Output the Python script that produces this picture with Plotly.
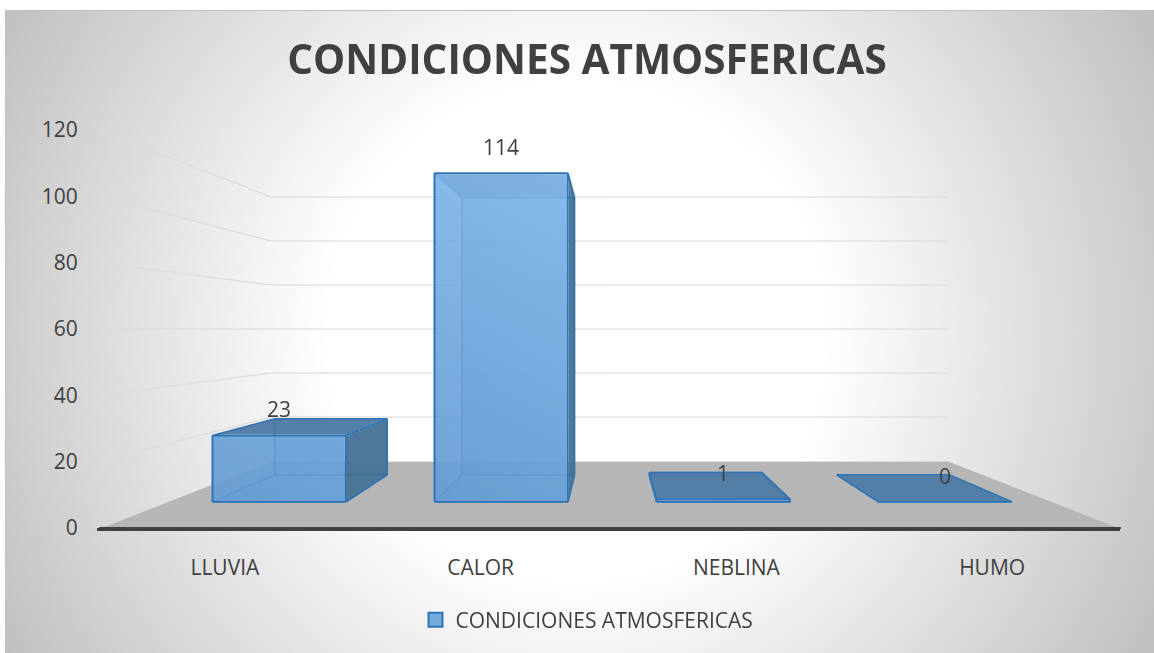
import base64
import plotly.graph_objects as go

categories = ['LLUVIA', 'CALOR', 'NEBLINA', 'HUMO']
values = [23, 114, 1, 0]
y_ticks = [0, 20, 40, 60, 80, 100, 120]
series_name = 'CONDICIONES ATMOSFERICAS'

# bar footprint inside each category slot and inside the floor depth
bar_left, bar_right = 0.21, 0.81
bar_front, bar_back = 0.296, 0.715
floor_z = -0.3  # just under the zero bar so the two do not fight

FONT = 'Open Sans'
TEXT = '#404040'
EDGE = '#2e75b6'

# grey to white backdrop of the chart area
svg = """<svg xmlns="http://www.w3.org/2000/svg" width="1154" height="653">
<defs><radialGradient id="g" gradientUnits="userSpaceOnUse" cx="577" cy="331" r="670">
<stop offset="0.37" stop-color="#ffffff"/><stop offset="1" stop-color="#bebebe"/>
</radialGradient></defs>
<rect x="0" y="0" width="1154" height="653" fill="#ffffff"/>
<rect x="5.5" y="10.5" width="1160" height="660" fill="url(#g)" stroke="#c0c0c0"/>
</svg>"""
background = 'data:image/svg+xml;base64,' + base64.b64encode(svg.encode()).decode()


def box_faces(i, value):
    x0, x1 = i + bar_left, i + bar_right
    y0, y1 = bar_front, bar_back
    return {
        'front': [(x0, y0, 0), (x1, y0, 0), (x1, y0, value), (x0, y0, value)],
        'back': [(x0, y1, 0), (x1, y1, 0), (x1, y1, value), (x0, y1, value)],
        'left': [(x0, y0, 0), (x0, y1, 0), (x0, y1, value), (x0, y0, value)],
        'right': [(x1, y0, 0), (x1, y1, 0), (x1, y1, value), (x1, y0, value)],
        'top': [(x0, y0, value), (x1, y0, value), (x1, y1, value), (x0, y1, value)],
        'bottom': [(x0, y0, 0), (x1, y0, 0), (x1, y1, 0), (x0, y1, 0)],
    }


def quad_mesh(quads, color, opacity, shade=None):
    xs, ys, zs, a, b, c = [], [], [], [], [], []
    for q in quads:
        n = len(xs)
        for p in q:
            xs.append(p[0])
            ys.append(p[1])
            zs.append(p[2])
        a += [n, n]
        b += [n + 1, n + 2]
        c += [n + 2, n + 3]
    mesh = go.Mesh3d(x=xs, y=ys, z=zs, i=a, j=b, k=c, opacity=opacity, flatshading=True,
                     lighting=dict(ambient=1, diffuse=0, specular=0, fresnel=0), hoverinfo='skip',
                     scene='scene')
    if shade:
        # light comes from the upper right of each face
        mesh.intensity = [0.75 * z / 120 + 0.25 * (x % 1) for x, z in zip(xs, zs)]
        mesh.colorscale = [[0, shade[0]], [1, shade[1]]]
        mesh.cmin = 0
        mesh.cmax = 1
        mesh.showscale = False
    else:
        mesh.color = color
    return mesh


fig = go.Figure()

# only here so the 2D axes and the legend exist
fig.add_trace(go.Scatter(x=categories, y=[None] * len(categories), mode='markers', name=series_name,
                         marker=dict(symbol='square', size=14, color='#74a9dc', line=dict(color=EDGE, width=2)),
                         showlegend=True, hoverinfo='skip'))

# floor
n_cat = len(categories)
fig.add_trace(quad_mesh([[(0, 0, floor_z), (n_cat, 0, floor_z), (n_cat, 1, floor_z), (0, 1, floor_z)]], '#b6b6b6', 1))

# dark front edge of the floor, the canvas would cover the 2D axis line here
fig.add_trace(go.Scatter3d(x=[0, n_cat], y=[0, 0], z=[0, 0], mode='lines', line=dict(color=TEXT, width=4),
                           hoverinfo='skip', showlegend=False))

# gridlines on the back wall and fading along the left wall
gx, gy, gz, gc = [], [], [], []
for t in y_ticks[1:]:
    gx += [0, 0, n_cat, None]
    gy += [0, 1, 1, None]
    gz += [t, t, t, None]
    gc += ['#dedede', '#d6d6d6', '#d9d9d9', '#d9d9d9']
fig.add_trace(go.Scatter3d(x=gx, y=gy, z=gz, mode='lines', line=dict(color=gc, width=2),
                           hoverinfo='skip', showlegend=False))

faces = [box_faces(i, v) for i, v in enumerate(values)]
fig.add_trace(quad_mesh([f['bottom'] for f in faces], '#5b93c9', 0.7))
fig.add_trace(quad_mesh([f['back'] for f in faces], '#5b93c9', 0.8))
fig.add_trace(quad_mesh([f['left'] for f in faces], '#5b93c9', 0.6))
fig.add_trace(quad_mesh([f['right'] for f in faces], '#46708f', 0.85))
fig.add_trace(quad_mesh([f['top'] for f in faces], '#4f7aa3', 0.9))
fig.add_trace(quad_mesh([f['front'] for f in faces], None, 0.8, shade=('#639ad2', '#8cc2f5')))

# bar outlines
ex, ey, ez = [], [], []
for f in faces:
    for name in ['front', 'back', 'top']:
        q = f[name]
        for p in q + [q[0]]:
            ex.append(p[0])
            ey.append(p[1])
            ez.append(p[2])
        ex.append(None)
        ey.append(None)
        ez.append(None)
    for p, r in zip(f['front'][:2], f['back'][:2]):
        ex += [p[0], r[0], None]
        ey += [p[1], r[1], None]
        ez += [p[2], r[2], None]
fig.add_trace(go.Scatter3d(x=ex, y=ey, z=ez, mode='lines', line=dict(color=EDGE, width=4),
                           hoverinfo='skip', showlegend=False))

hidden = dict(visible=False, showgrid=False, showticklabels=False, zeroline=False, showspikes=False,
              showbackground=False, autorange=False)
labels = [dict(x=i + (bar_left + bar_right) / 2, y=bar_front, z=v, text=str(v), showarrow=False, yshift=26,
               font=dict(family=FONT, size=21, color=TEXT)) for i, v in enumerate(values)]

fig.update_layout(
    width=1154,
    height=653,
    margin=dict(l=0, r=0, t=0, b=0, autoexpand=False),
    paper_bgcolor='rgba(0,0,0,0)',
    plot_bgcolor='rgba(0,0,0,0)',
    images=[dict(source=background, xref='paper', yref='paper', x=0, y=1, sizex=1, sizey=1,
                 sizing='stretch', xanchor='left', yanchor='top', layer='below')],
    title=dict(text='<b>' + series_name + '</b>', x=587 / 1154, y=1 - 60 / 653, xanchor='center', yanchor='middle',
               font=dict(family=FONT, size=40.5, color=TEXT)),
    xaxis=dict(domain=[97 / 1154, 1120 / 1154], range=[-0.5, 3.5], showgrid=False, zeroline=False,
               showline=True, linecolor=TEXT, linewidth=3, ticks='outside', ticklen=19,
               tickcolor='rgba(0,0,0,0)', tickfont=dict(family=FONT, size=21, color=TEXT), anchor='y'),
    yaxis=dict(domain=[(653 - 528) / 653, (653 - 130) / 653], range=[0, 120], tickvals=y_ticks, showgrid=False,
               zeroline=False, showline=False, ticks='outside', ticklen=14, tickcolor='rgba(0,0,0,0)',
               tickfont=dict(family=FONT, size=21, color=TEXT), anchor='x'),
    legend=dict(orientation='h', x=587 / 1154, y=1 - 620 / 653, xanchor='center', yanchor='middle',
                bgcolor='rgba(0,0,0,0)', font=dict(family=FONT, size=21, color=TEXT)),
    scene=dict(
        domain=dict(x=[80 / 1154, 1140 / 1154], y=[5.5 / 653, 643.5 / 653]),
        bgcolor='rgba(0,0,0,0)',
        aspectmode='manual',
        aspectratio=dict(x=2.567, y=0.982, z=122 / 120),
        camera=dict(eye=dict(x=0, y=-2.426, z=0), center=dict(x=0, y=0, z=0), up=dict(x=0, y=0, z=1),
                    projection=dict(type='perspective')),
        xaxis=dict(range=[0, n_cat], **hidden),
        yaxis=dict(range=[0, 1], **hidden),
        zaxis=dict(range=[-1, 121], **hidden),
        annotations=labels,
    ),
)

# the page's default body margin would push the 1154 wide figure out of the window
fig.write_html("out.html", config=dict(displayModeBar=False), post_script="document.body.style.margin = '0';")
